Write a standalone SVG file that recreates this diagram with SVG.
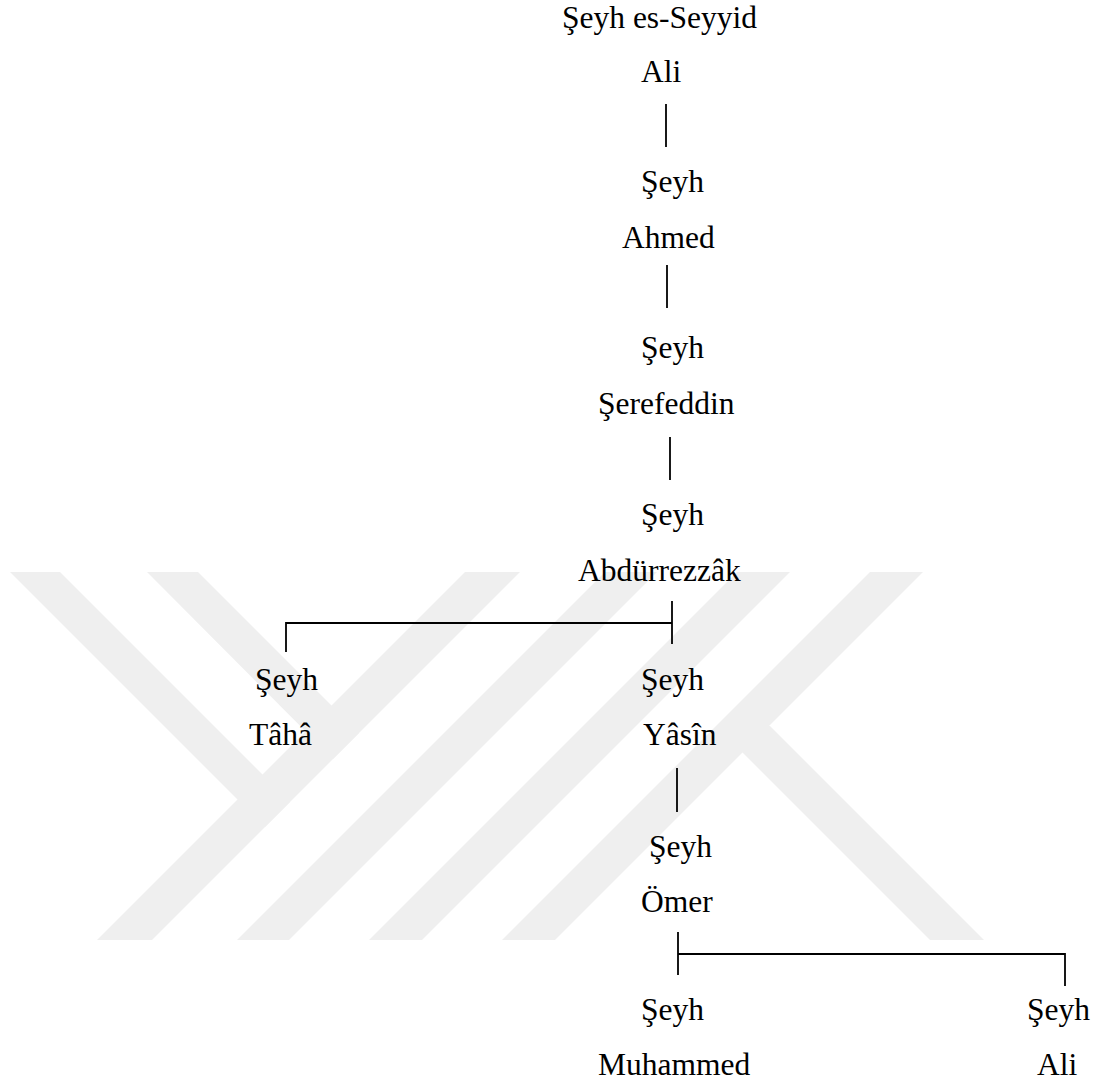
<svg xmlns="http://www.w3.org/2000/svg" width="1100" height="1088" viewBox="0 0 1100 1088">
<style>
.t{font-family:"Liberation Serif","Times New Roman",serif;font-size:31.5px;fill:#000}
.c{stroke:#000;stroke-width:1.8;fill:none}
.w{fill:#efefef}
</style>
<rect width="1100" height="1088" fill="#fff"/>
<g id="watermark">
<polygon class="w" points="10,572 60,572 290,802 265,827"/>
<polygon class="w" points="147,572 198,572 359,733 333,759"/>
<polygon class="w" points="465,572 520,572 152,940 97,940"/>
<polygon class="w" points="605,572 657,572 289,940 237,940"/>
<polygon class="w" points="737,572 790,572 422,940 369,940"/>
<polygon class="w" points="870,572 923,572 555,940 502,940"/>
<polygon class="w" points="716,726 770,726 984,940 930,940"/>
</g>
<g id="connectors">
<line class="c" x1="666" y1="104" x2="666" y2="147"/>
<line class="c" x1="667" y1="265" x2="667" y2="308"/>
<line class="c" x1="670" y1="437" x2="670" y2="480"/>
<line class="c" x1="672" y1="601" x2="672" y2="644"/>
<polyline class="c" points="672,623 286,623 286,652"/>
<line class="c" x1="677" y1="768" x2="677" y2="812"/>
<line class="c" x1="678" y1="932" x2="678" y2="975"/>
<polyline class="c" points="678,954 1065,954 1065,986"/>
</g>
<g id="n1"><text class="t" x="562" y="28">Şeyh es-Seyyid</text><text class="t" x="641" y="82">Ali</text></g>
<g id="n2"><text class="t" x="641" y="192">Şeyh</text><text class="t" x="622" y="248">Ahmed</text></g>
<g id="n3"><text class="t" x="641" y="358">Şeyh</text><text class="t" x="598" y="414">Şerefeddin</text></g>
<g id="n4"><text class="t" x="641" y="525">Şeyh</text><text class="t" x="578" y="581">Abdürrezzâk</text></g>
<g id="n5"><text class="t" x="255" y="690">Şeyh</text><text class="t" x="249" y="745">Tâhâ</text></g>
<g id="n6"><text class="t" x="641" y="690">Şeyh</text><text class="t" x="643" y="745">Yâsîn</text></g>
<g id="n7"><text class="t" x="649" y="857">Şeyh</text><text class="t" x="641" y="912">Ömer</text></g>
<g id="n8"><text class="t" x="641" y="1020">Şeyh</text><text class="t" x="598" y="1075">Muhammed</text></g>
<g id="n9"><text class="t" x="1027" y="1020">Şeyh</text><text class="t" x="1037" y="1075">Ali</text></g>
</svg>
